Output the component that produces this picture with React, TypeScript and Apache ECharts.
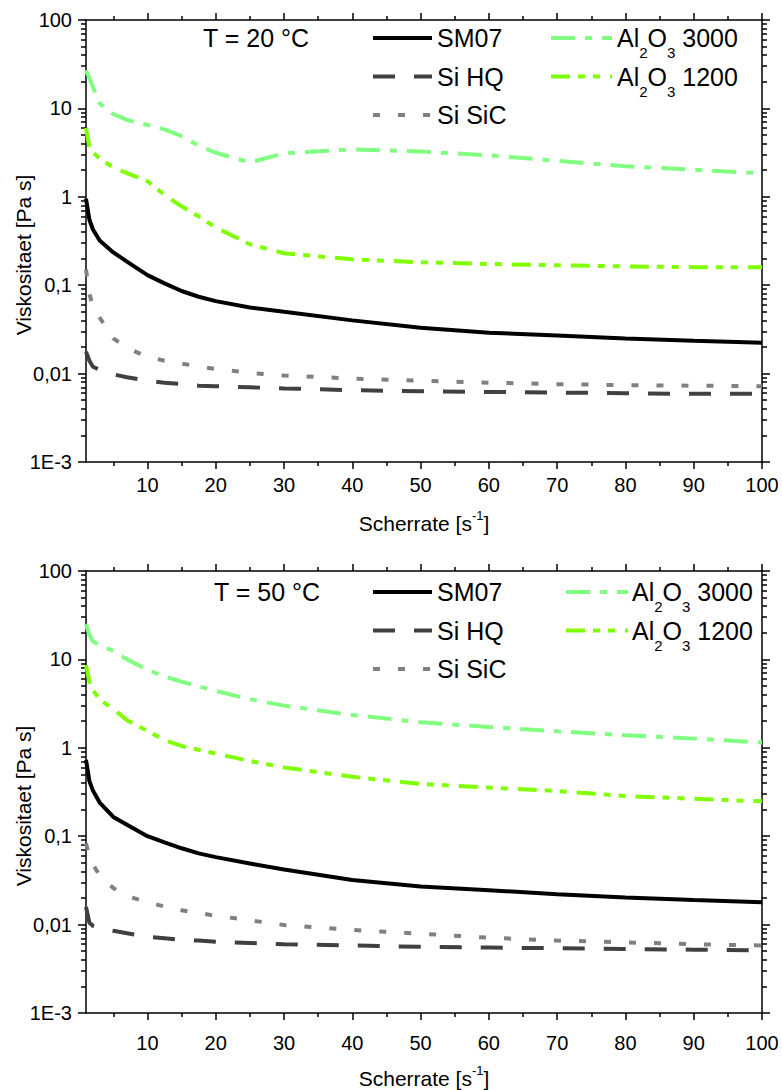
import React, { useEffect, useRef } from "react";
import * as echarts from "echarts";

// ---------- data ----------
const shearRate = [1, 1.5, 2, 3, 5, 7, 10, 12.5, 15, 17.5, 20, 25, 30, 40, 50, 60, 70, 80, 90, 100];

// T = 20 °C
const sm07_20 = [0.95, 0.55, 0.43, 0.32, 0.235, 0.185, 0.13, 0.105, 0.086, 0.074, 0.066, 0.056, 0.05, 0.04, 0.033, 0.029, 0.027, 0.025, 0.0235, 0.0224];
const siHQ_20 = [0.0177, 0.014, 0.012, 0.011, 0.0098, 0.0091, 0.0083, 0.0079, 0.0076, 0.0073, 0.0072, 0.007, 0.0068, 0.0065, 0.0063, 0.0062, 0.0061, 0.006, 0.0059, 0.0059];
const siSiC_20 = [0.15, 0.08, 0.058, 0.043, 0.025, 0.0195, 0.0155, 0.014, 0.013, 0.012, 0.0113, 0.0102, 0.0095, 0.0088, 0.0083, 0.0079, 0.0076, 0.0074, 0.0073, 0.0072];
const al3000_20 = [27, 22, 17.5, 11.4, 8.6, 7.4, 6.5, 5.8, 4.85, 3.8, 3.15, 2.45, 3.1, 3.45, 3.25, 2.95, 2.55, 2.22, 2.02, 1.85];
const al1200_20 = [6.0, 3.7, 3.2, 2.7, 2.15, 1.85, 1.5, 1.05, 0.78, 0.6, 0.45, 0.29, 0.23, 0.196, 0.182, 0.174, 0.168, 0.163, 0.16, 0.16];

// T = 50 °C
const sm07_50 = [0.73, 0.42, 0.33, 0.24, 0.165, 0.135, 0.1, 0.085, 0.073, 0.064, 0.058, 0.049, 0.042, 0.032, 0.027, 0.0245, 0.022, 0.0202, 0.019, 0.0179];
const siHQ_50 = [0.0158, 0.0105, 0.0097, 0.0091, 0.0085, 0.008, 0.0073, 0.007, 0.0067, 0.0066, 0.0064, 0.0062, 0.006, 0.0058, 0.0056, 0.0055, 0.0054, 0.0053, 0.0052, 0.0051];
const siSiC_50 = [0.083, 0.058, 0.048, 0.036, 0.026, 0.021, 0.018, 0.016, 0.0145, 0.0135, 0.0126, 0.0112, 0.0099, 0.0087, 0.0079, 0.0071, 0.0066, 0.0063, 0.006, 0.0058];
const al3000_50 = [25, 19, 16, 14.5, 12.5, 10, 7.6, 6.4, 5.6, 4.95, 4.4, 3.55, 3.0, 2.35, 1.95, 1.72, 1.54, 1.39, 1.27, 1.15];
const al1200_50 = [8.6, 5.6, 4.5, 3.5, 2.75, 2.05, 1.55, 1.22, 1.05, 0.95, 0.86, 0.71, 0.6, 0.47, 0.39, 0.355, 0.325, 0.285, 0.265, 0.248];

// ticks / labels
const xMajorTicks = [10, 20, 30, 40, 50, 60, 70, 80, 90, 100];
const xMinorTicks = [5, 15, 25, 35, 45, 55, 65, 75, 85, 95];
const yDecadeLabels: Record<string, string> = { "2": "100", "1": "10", "0": "1", "-1": "0,1", "-2": "0,01", "-3": "1E-3" };
const yMinorMultipliers = [2, 3, 4, 5, 6, 7, 8, 9];
const yDecades = [-3, -2, -1, 0, 1];

const temps = ["T = 20 °C", "T = 50 °C"];
const seriesNames = ["SM07", "Si HQ", "Si SiC", "Al2O3 3000", "Al2O3 1200"];
const seriesValues = [
  [sm07_20, siHQ_20, siSiC_20, al3000_20, al1200_20],
  [sm07_50, siHQ_50, siSiC_50, al3000_50, al1200_50],
];

// ---------- styles ----------
const FONT = "Liberation Sans";
const seriesStyles = [
  { color: "#000000", dash: "solid" as any },
  { color: "#404040", dash: [22, 19] },
  { color: "#808080", dash: [7, 18] },
  { color: "#80ff80", dash: [24, 10, 7, 10] },
  { color: "#80ff00", dash: [19, 8, 7, 8, 7, 10] },
];
const LW = 4;

const gridTops = [20, 571];
const xLabelMargins = [13, 20];
const GRID_LEFT = 86;
const GRID_W = 676;
const GRID_H = 442;

export default function App() {
  const ref = useRef<HTMLDivElement>(null);

  useEffect(() => {
    if (!ref.current) return;
    const chart = echarts.init(ref.current, undefined, { renderer: "svg" });

    const yMinorLog: number[] = [];
    yDecades.forEach((d) => yMinorMultipliers.forEach((m) => yMinorLog.push(d + Math.log10(m))));

    const axisLineStyle = { color: "#000", width: 1.5 };
    const grid: any[] = [];
    const xAxis: any[] = [];
    const yAxis: any[] = [];
    const series: any[] = [];
    const graphic: any[] = [];

    gridTops.forEach((top, g) => {
      grid.push({ left: GRID_LEFT, top, width: GRID_W, height: GRID_H, containLabel: false });

      const xBase = {
        gridIndex: g,
        type: "value",
        min: 1,
        max: 100,
        splitLine: { show: false },
      };
      // bottom major
      xAxis.push({
        ...xBase,
        position: "bottom",
        axisLine: { show: true, onZero: false, lineStyle: axisLineStyle },
        axisTick: { show: true, customValues: xMajorTicks, length: 7, lineStyle: axisLineStyle },
        axisLabel: {
          show: true,
          customValues: xMajorTicks,
          fontSize: 20,
          color: "#000",
          fontFamily: FONT,
          margin: xLabelMargins[g],
        },
      });
      // bottom minor
      xAxis.push({
        ...xBase,
        position: "bottom",
        axisLine: { show: false, onZero: false },
        axisTick: { show: true, customValues: xMinorTicks, length: 4, lineStyle: axisLineStyle },
        axisLabel: { show: false },
      });
      // top major
      xAxis.push({
        ...xBase,
        position: "top",
        axisLine: { show: true, onZero: false, lineStyle: axisLineStyle },
        axisTick: { show: true, customValues: xMajorTicks, length: 7, lineStyle: axisLineStyle },
        axisLabel: { show: false },
      });
      // top minor
      xAxis.push({
        ...xBase,
        position: "top",
        axisLine: { show: false, onZero: false },
        axisTick: { show: true, customValues: xMinorTicks, length: 4, lineStyle: axisLineStyle },
        axisLabel: { show: false },
      });

      const yLogBase = {
        gridIndex: g,
        type: "log",
        logBase: 10,
        min: 0.001,
        max: 100,
        splitLine: { show: false },
        minorTick: { show: false },
      };
      const yMinorBase = {
        gridIndex: g,
        type: "value",
        min: -3,
        max: 2,
        splitLine: { show: false },
        axisLine: { show: false, onZero: false },
        axisLabel: { show: false },
        axisTick: { show: true, customValues: yMinorLog, length: 5, lineStyle: axisLineStyle },
      };
      yAxis.push({
        ...yLogBase,
        position: "left",
        axisLine: { show: true, onZero: false, lineStyle: axisLineStyle },
        axisTick: { show: true, length: 8, lineStyle: axisLineStyle },
        axisLabel: {
          show: true,
          fontSize: 20,
          color: "#000",
          fontFamily: FONT,
          margin: 14,
          formatter: (v: number) => yDecadeLabels[String(Math.round(Math.log10(v)))] ?? "",
        },
      });
      yAxis.push({ ...yMinorBase, position: "left" });
      yAxis.push({
        ...yLogBase,
        position: "right",
        axisLine: { show: true, onZero: false, lineStyle: axisLineStyle },
        axisTick: { show: true, length: 8, lineStyle: axisLineStyle },
        axisLabel: { show: false },
      });
      yAxis.push({ ...yMinorBase, position: "right" });

      seriesValues[g].forEach((vals, i) => {
        series.push({
          type: "line",
          name: seriesNames[i] + " " + temps[g],
          xAxisIndex: g * 4,
          yAxisIndex: g * 4,
          data: shearRate.map((x, k) => [x, vals[k]]),
          showSymbol: false,
          symbol: "none",
          lineStyle: { color: seriesStyles[i].color, width: LW, type: seriesStyles[i].dash, cap: "butt" },
          z: 5 - i,
        });
      });

      // axis titles
      graphic.push({
        type: "text",
        x: 23,
        y: top + 235,
        rotation: Math.PI / 2,
        style: {
          text: "Viskositaet [Pa s]",
          fontSize: 21,
          fontFamily: FONT,
          fill: "#000",
          align: "center",
          verticalAlign: "middle",
        },
      });
      graphic.push({
        type: "text",
        x: GRID_LEFT + GRID_W / 2,
        y: top + GRID_H + (g === 0 ? 61 : 65),
        style: {
          text: "Scherrate [s{sup|-1}]",
          fontSize: 21,
          fontFamily: FONT,
          fill: "#000",
          align: "center",
          verticalAlign: "middle",
          lineHeight: 28,
          rich: { sup: { fontSize: 13, fontFamily: FONT, fill: "#000", verticalAlign: "top", lineHeight: 13 } },
        },
      });

      // legend
      const row0 = g === 0 ? 38 : 592;
      const rowGap = 38.5;
      const tX = g === 0 ? 203 : 214;
      graphic.push({
        type: "text",
        x: tX,
        y: row0,
        style: { text: temps[g], fontSize: 25, fontFamily: FONT, fill: "#000", align: "left", verticalAlign: "middle" },
      });
      const col1 = { x1: 373, x2: 432, tx: 437 };
      const col2 = g === 0 ? { x1: 551, x2: 612, tx: 617 } : { x1: 566, x2: 628, tx: 632 };
      const entries = [
        { i: 0, col: col1, row: 0 },
        { i: 1, col: col1, row: 1 },
        { i: 2, col: col1, row: 2 },
        { i: 3, col: col2, row: 0 },
        { i: 4, col: col2, row: 1 },
      ];
      entries.forEach(({ i, col, row }) => {
        const y = row0 + row * rowGap;
        const st = seriesStyles[i];
        graphic.push({
          type: "line",
          shape: { x1: col.x1, y1: y, x2: col.x2, y2: y },
          style: {
            stroke: st.color,
            lineWidth: LW,
            lineDash: Array.isArray(st.dash) ? st.dash : null,
          },
        });
        const isAl = i >= 3;
        graphic.push({
          type: "text",
          x: col.tx,
          y,
          style: {
            text: isAl ? "Al{sub|2}O{sub|3} " + seriesNames[i].split(" ")[1] : seriesNames[i],
            fontSize: 25,
            fontFamily: FONT,
            fill: "#000",
            align: "left",
            verticalAlign: "middle",
            lineHeight: isAl ? 44 : 28,
            rich: isAl
              ? { sub: { fontSize: 15, fontFamily: FONT, fill: "#000", verticalAlign: "bottom", lineHeight: 15 } }
              : undefined,
          },
        });
      });
    });

    chart.setOption({
      animation: false,
      backgroundColor: "#ffffff",
      textStyle: { fontFamily: FONT },
      grid,
      xAxis,
      yAxis,
      series,
      graphic,
    });

    return () => chart.dispose();
  }, []);

  return (
    <div
      ref={ref}
      style={{ position: "absolute", left: 0, top: 0, width: 782, height: 1090, background: "#fff" }}
    />
  );
}
